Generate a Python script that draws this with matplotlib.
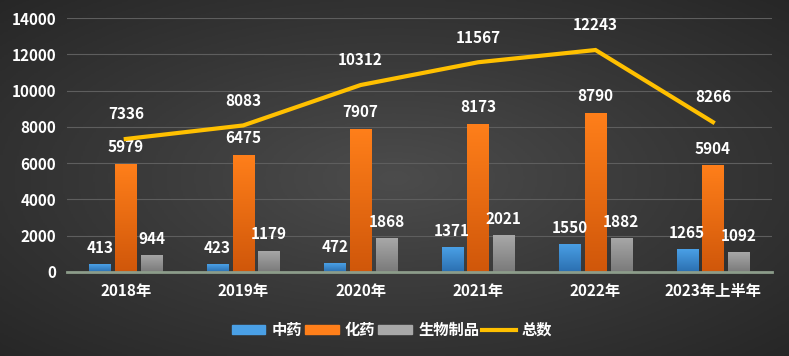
import numpy as np
import matplotlib
matplotlib.use('Agg')
import matplotlib.pyplot as plt
import matplotlib.colors as clr
from matplotlib.lines import Line2D
from matplotlib.patches import Patch

plt.rcParams['font.family'] = ['Noto Sans CJK SC', 'DejaVu Sans']

categories = ['2018年', '2019年', '2020年', '2021年', '2022年', '2023年上半年']
tcm = [413, 423, 472, 1371, 1550, 1265]
chem = [5979, 6475, 7907, 8173, 8790, 5904]
bio = [944, 1179, 1868, 2021, 1882, 1092]
total = [7336, 8083, 10312, 11567, 12243, 8266]

series_names = ['中药', '化药', '生物制品', '总数']
grads = [('#4aa0e6', '#2b6fb0'), ('#ff7f1a', '#d0570a'), ('#a8a8a8', '#7a7a7a')]

fig = plt.figure(figsize=(7.89, 3.56), dpi=100)

# radial background
bg = fig.add_axes([0, 0, 1, 1])
yy, xx = np.mgrid[-1:1:200j, -1:1:400j]
r = np.sqrt(xx**2 + yy**2)
bg.imshow(r, cmap=clr.LinearSegmentedColormap.from_list('bg', ['#4c4c4c', '#383838', '#262626']),
          extent=[0, 1, 0, 1], aspect='auto', vmin=0, vmax=1.45)
bg.axis('off')

ax = fig.add_axes([0.085, 0.236, 0.893, 0.713])
ax.patch.set_alpha(0)
x = np.arange(len(categories))
w = 0.18
off = 0.22

def grad_bars(xs, vals, c_top, c_bot):
    cmap = clr.LinearSegmentedColormap.from_list('g', [c_bot, c_top])
    bars = ax.bar(xs, vals, w, color='none', zorder=2)
    for b in bars:
        x0, y0 = b.get_x(), b.get_y()
        bw, bh = b.get_width(), b.get_height()
        im = ax.imshow(np.linspace(0, 1, 100).reshape(-1, 1), cmap=cmap, origin='lower',
                       extent=[x0, x0 + bw, y0, y0 + bh], aspect='auto', zorder=2)
        im.set_clip_path(b)
    return bars

for i, vals in enumerate([tcm, chem, bio]):
    xs = x + (i - 1) * off
    grad_bars(xs, vals, *grads[i])
    for xi, v in zip(xs, vals):
        ax.annotate(str(v), (xi, v), xytext=(0, 6), textcoords='offset points',
                    ha='center', va='bottom', color='white', fontsize=11, fontweight='bold')

ax.plot(x, total, color='#ffc000', lw=3, zorder=3, solid_joinstyle='miter')
for xi, v in zip(x, total):
    ax.annotate(str(v), (xi, v), xytext=(0, 12), textcoords='offset points',
                ha='center', va='bottom', color='white', fontsize=11, fontweight='bold')

ax.set_xlim(-0.5, len(categories) - 0.5)
ax.set_ylim(0, 14000)
ax.set_yticks(range(0, 14001, 2000))
ax.set_xticks(x)
ax.set_xticklabels(categories)
ax.tick_params(colors='white', labelsize=11, length=0, pad=8)
for lab in ax.get_xticklabels() + ax.get_yticklabels():
    lab.set_fontweight('bold')
ax.grid(axis='y', color='#5e5e5e', lw=0.8)
ax.set_axisbelow(True)
for s in ['top', 'right', 'left']:
    ax.spines[s].set_visible(False)
ax.spines['bottom'].set_color('#8c9c8a')
ax.spines['bottom'].set_linewidth(2)

handles = [Patch(color=grads[0][0]), Patch(color=grads[1][0]), Patch(color=grads[2][0]),
           Line2D([0], [0], color='#ffc000', lw=3)]
fig.legend(handles, series_names, loc='center', bbox_to_anchor=(0.497, 0.073), ncol=4,
           frameon=False, labelcolor='white', prop={'size': 11, 'weight': 'bold'},
           handlelength=2.2, handleheight=0.55, columnspacing=0.2, handletextpad=0.4)

fig.savefig('out.png', dpi=100)
